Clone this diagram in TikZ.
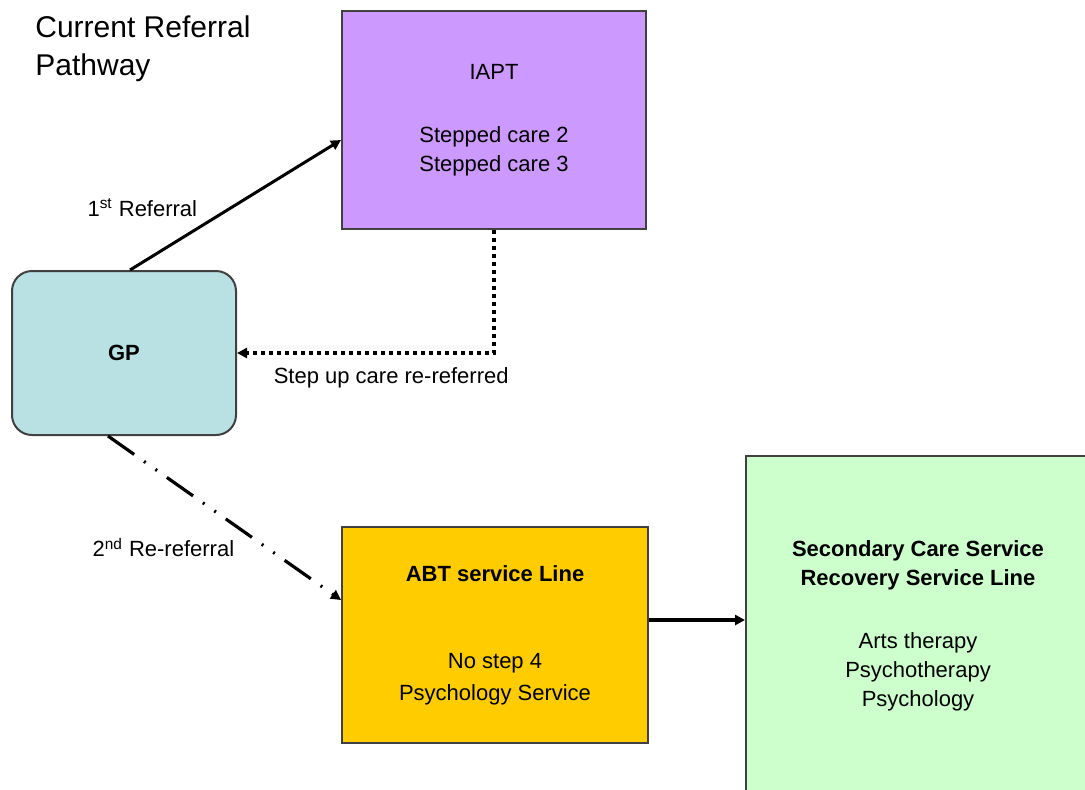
\documentclass[tikz,border=0pt]{standalone}
\usepackage{fontspec}
\setmainfont{Liberation Sans}
\usepackage{tikz}
\usetikzlibrary{arrows.meta}

\definecolor{iaptpurple}{HTML}{CC99FF}
\definecolor{gpteal}{HTML}{B9E0E3}
\definecolor{abtyellow}{HTML}{FFCC00}
\definecolor{secgreen}{HTML}{CCFFCC}
\definecolor{boxgrey}{HTML}{404040}

\begin{document}
\begin{tikzpicture}[
    x=0.5pt, y=-0.5pt,
    every node/.style={font=\fontsize{11}{14.5}\selectfont},
    box/.style={rectangle, draw=boxgrey, line width=1pt, inner sep=0pt, align=center},
    arrow/.style={-{Triangle[length=5pt, width=5pt]}, line width=1.5pt},
    dotline/.style={arrow, line width=1.8pt, dash pattern=on 2pt off 2pt},
    dashdot/.style={arrow, line width=1.6pt, dash pattern=on 16pt off 6pt on 1pt off 6pt on 1pt off 6pt}
]
    \useasboundingbox (0,0) rectangle (1085,789);

    \node[anchor=west, align=left, inner sep=0pt, font=\fontsize{15}{19}\selectfont] (title) at (35,49) {Current Referral\\Pathway};

    \node[box, fill=iaptpurple, minimum width=152pt, minimum height=109pt] (iapt) at (494,120)
        {IAPT\\[17pt]Stepped care 2\\Stepped care 3};
    \node[box, fill=gpteal, rounded corners=10pt, minimum width=112pt, minimum height=82pt] (gp) at (124,353)
        {\textbf{GP}};
    \node[box, fill=abtyellow, minimum width=153pt, minimum height=108pt] (abt) at (495,635)
        {\textbf{ABT service Line}\\[29pt]No step 4\\[1.5pt]Psychology Service};
    \node[box, fill=secgreen, minimum width=172pt, minimum height=169.5pt] (sec) at (918,625.5)
        {\textbf{Secondary Care Service}\\\textbf{Recovery Service Line}\\[17pt]Arts therapy\\Psychotherapy\\Psychology};

    \draw[arrow] ([xshift=3pt]gp.north) -- node[pos=0.48, left=13pt]{1\textsuperscript{st} Referral} ([yshift=-10pt]iapt.west);
    \draw[dotline] (iapt.south) |- node[pos=0.7, below=3pt]{Step up care re-referred} (gp.east);
    \draw[dashdot] ([xshift=-8pt]gp.south) -- node[pos=0.68, left=12pt]{2\textsuperscript{nd} Re-referral} ([yshift=17.5pt]abt.west);
    \draw[arrow, line width=2pt] ([yshift=7.5pt]abt.east) -- ([yshift=7.5pt]abt.east -| sec.west);
\end{tikzpicture}
\end{document}
